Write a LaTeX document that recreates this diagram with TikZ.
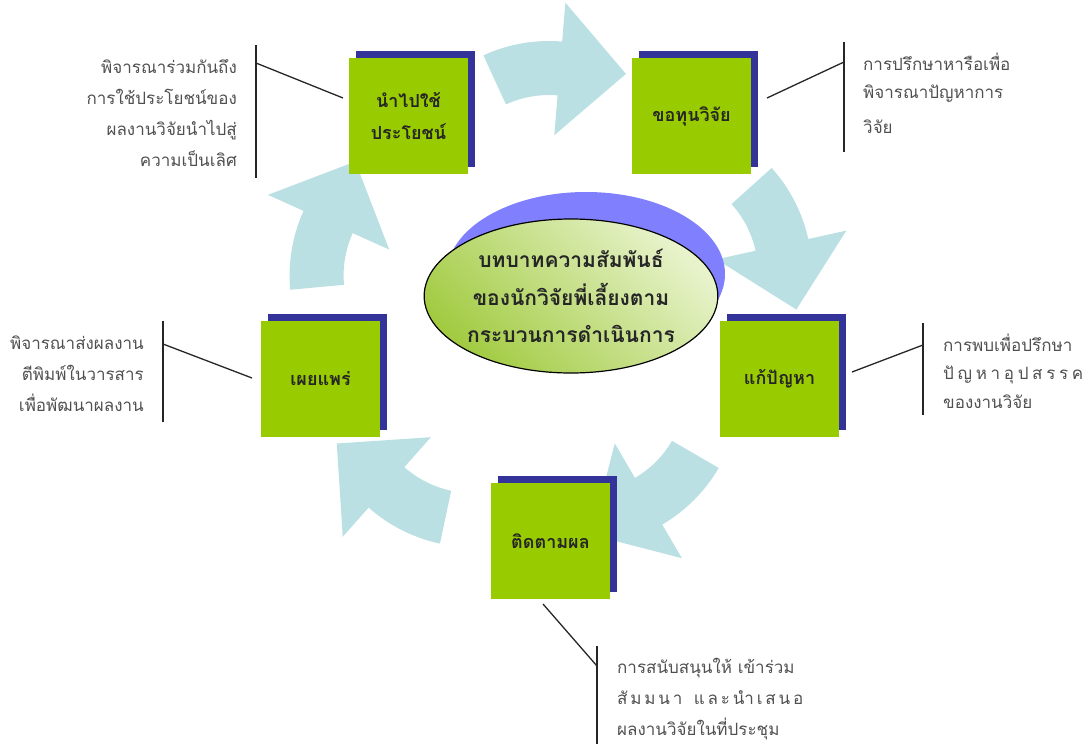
\documentclass[tikz,border=0pt]{standalone}
\usepackage{fontspec}
\setmainfont[Script=Thai]{Loma}
\usetikzlibrary{shadows,shapes.geometric}

\definecolor{leafgreen}{HTML}{99CC00}
\definecolor{boxblue}{HTML}{333399}
\definecolor{flowcyan}{HTML}{BBE0E3}
\definecolor{hubshadow}{HTML}{8080FF}
\definecolor{hublight}{HTML}{E8F3CC}
\definecolor{hubdark}{HTML}{A2CB42}
\definecolor{notegray}{HTML}{505050}
\definecolor{labeltext}{HTML}{262626}

\newcommand{\spreadline}[2]{\makebox[#1][s]{#2}}

\tikzset{
    phase/.style={fill=leafgreen, minimum width=119pt, minimum height=116pt,
        inner sep=0pt, align=center, text=labeltext,
        font=\bfseries\fontsize{18}{32}\selectfont,
        general shadow={fill=boxblue, shadow xshift=7pt, shadow yshift=7pt}},
    hub/.style={ellipse, draw=black, line width=1.2pt, minimum width=290pt,
        minimum height=154pt, inner sep=0pt, align=center, text=labeltext,
        top color=hublight, bottom color=hubdark, shading angle=-45,
        font=\bfseries\fontsize{21}{37.5}\selectfont},
    note/.style={inner sep=0pt, text=notegray, font=\fontsize{17}{31}\selectfont},
    tie/.style={line width=1.3pt, black!85},
    flow/.style={fill=flowcyan, draw=none},
}

\begin{document}
\begin{tikzpicture}[x=1pt,y=-1pt]
    \useasboundingbox (0,0) rectangle (1090,744);

    % curved block arrows of the cycle
    \foreach \cx/\cy/\t in {549/198/114.7, 655/273/42, 583/389/-30.2, 472.6/390/-102, 446.6/275.5/185.2}
        \fill[flow, shift={(\cx,\cy)}] (\t:157pt)
            arc[start angle=\t, end angle=\t-29.5, radius=157pt]
            -- (\t-29.5:196pt) -- (\t-56.5:146pt) -- (\t-29.5:63pt) -- (\t-29.5:103pt)
            arc[start angle=\t-29.5, end angle=\t, radius=103pt] -- cycle;

    \fill[hubshadow] (586,274) ellipse [x radius=139pt, y radius=82pt];
    \node[hub] (hub) at (571,296) {บทบาทความสัมพันธ์\\ของนักวิจัยพี่เลี้ยงตาม\\กระบวนการดำเนินการ};

    \node[phase] (use) at (408.5,116) {นำไปใช้\\ประโยชน์};
    \node[phase] (fund) at (691.5,116) {ขอทุนวิจัย};
    \node[phase] (solve) at (779.5,379) {แก้ปัญหา};
    \node[phase] (track) at (550.5,541) {ติดตามผล};
    \node[phase] (publish) at (320.5,379) {เผยแพร่};

    \node[note, align=right, anchor=east] (useNote) at (237,113)
        {พิจารณาร่วมกันถึง\\การใช้ประโยชน์ของ\\ผลงานวิจัยนำไปสู่\\ความเป็นเลิศ};
    \node[note, align=left, anchor=west, font=\fontsize{17}{28}\selectfont] (fundNote) at (863,93)
        {การปรึกษาหารือเพื่อ\\พิจารณาปัญหาการ\\[7pt]วิจัย};
    \node[note, align=left, anchor=west, font=\fontsize{17}{28.5}\selectfont] (solveNote) at (943,371)
        {การพบเพื่อปรึกษา\\\spreadline{140pt}{ปั\hfil ญ\hfil ห\hfil า\hfil อุ\hfil ป\hfil ส\hfil ร\hfil ร\hfil ค}\\ของงานวิจัย};
    \node[note, align=right, anchor=east] (publishNote) at (144,374)
        {พิจารณาส่งผลงาน\\ตีพิมพ์ในวารสาร\\เพื่อพัฒนาผลงาน};
    \node[note, align=left, anchor=west] (trackNote) at (617,699)
        {การสนับสนุนให้ เข้าร่วม\\\spreadline{186pt}{สั\hfil ม\hfil ม\hfil น\hfil า\hfil\ \hfil แ\hfil ล\hfil ะ\hfil นำ\hfil เ\hfil ส\hfil น\hfil อ}\\ผลงานวิจัยในที่ประชุม};

    \coordinate (useTop) at (256,45);
    \coordinate (useBot) at (256,178);
    \coordinate (useTie) at (256,63);
    \coordinate (useEnd) at (343,98);
    \coordinate (fundTop) at (844,42);
    \coordinate (fundBot) at (844,152);
    \coordinate (fundTie) at (844,62);
    \coordinate (fundEnd) at (767,98);
    \coordinate (solveTop) at (923,323);
    \coordinate (solveBot) at (923,415);
    \coordinate (solveTie) at (923,345);
    \coordinate (solveEnd) at (852,372);
    \coordinate (publishTop) at (163,321);
    \coordinate (publishBot) at (163,422);
    \coordinate (publishTie) at (163,344);
    \coordinate (publishEnd) at (252,378);
    \coordinate (trackTop) at (597,646);
    \coordinate (trackBot) at (597,744);
    \coordinate (trackTie) at (597,666);
    \coordinate (trackEnd) at (543,604);

    \foreach \n in {use,fund,solve,publish,track}{
        \draw[tie] (\n Top) -- (\n Bot);
        \draw[tie] (\n Tie) -- (\n End);
    }
\end{tikzpicture}
\end{document}
